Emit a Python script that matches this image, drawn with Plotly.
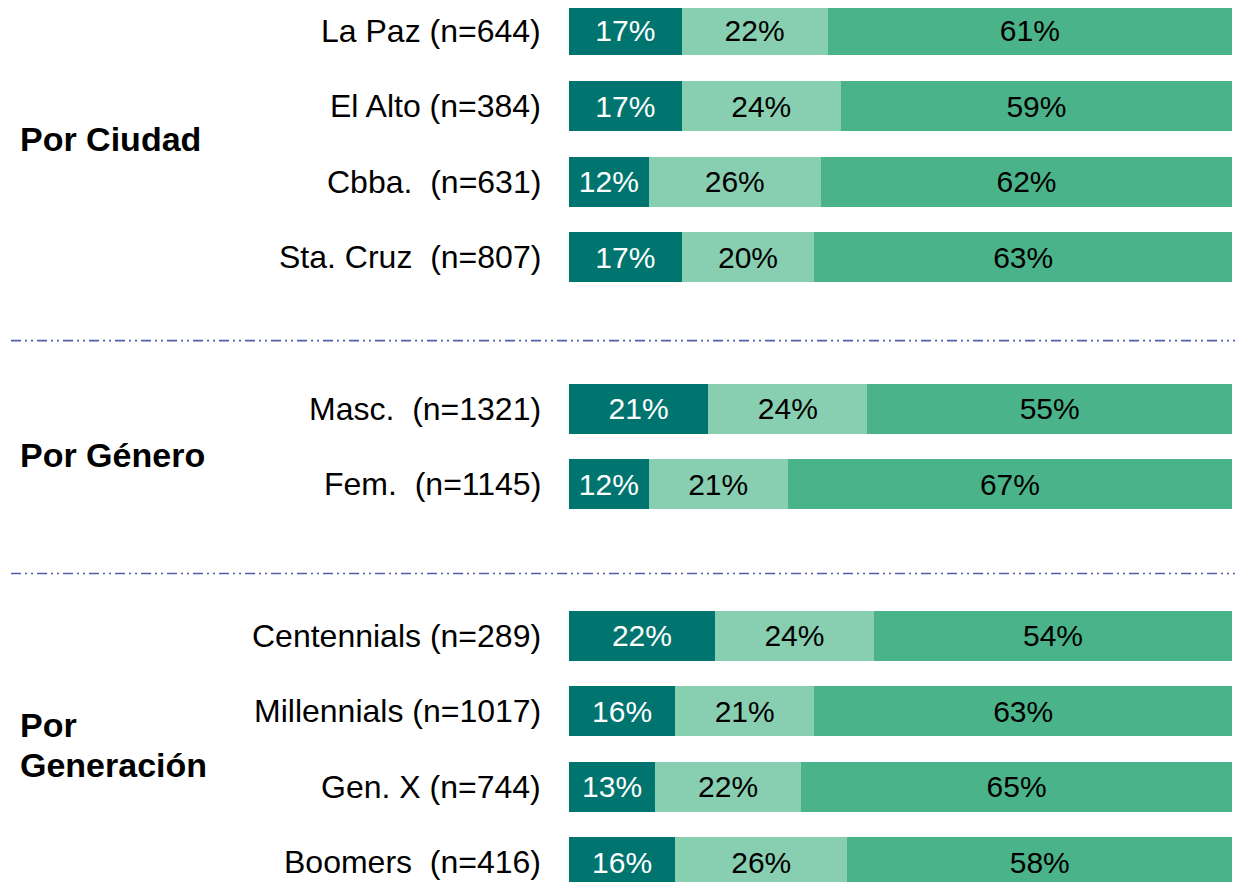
import plotly.graph_objects as go

# ---- data ----
categories = ["La Paz (n=644)", "El Alto (n=384)", "Cbba.  (n=631)", "Sta. Cruz  (n=807)",
              "Masc.  (n=1321)", "Fem.  (n=1145)",
              "Centennials (n=289)", "Millennials (n=1017)", "Gen. X (n=744)", "Boomers  (n=416)"]
group_names = ["Por Ciudad", "Por Género", "Por Generación"]
group_sizes = [4, 2, 4]
series_1 = [17, 17, 12, 17, 21, 12, 22, 16, 13, 16]
series_2 = [22, 24, 26, 20, 24, 21, 24, 21, 22, 26]
series_3 = [61, 59, 62, 63, 55, 67, 54, 63, 65, 58]

# ---- layout helpers ----
COLORS = ["#00756F", "#88CFB1", "#4BB389"]
TEXT_COLORS = ["white", "black", "black"]
FONT = "Liberation Sans, Arial, sans-serif"

# row positions: one empty row between groups
positions = []
pos = 0
for gs in group_sizes:
    for i in range(gs):
        positions.append(pos)
        pos += 1
    pos += 1

fig = go.Figure()
for vals, col, tcol in zip([series_1, series_2, series_3], COLORS, TEXT_COLORS):
    fig.add_trace(go.Bar(
        y=positions, x=vals, orientation="h",
        marker=dict(color=col, line=dict(width=0)),
        width=0.661,
        text=[f"{v}%" for v in vals],
        textposition="inside", insidetextanchor="middle",
        textangle=0,
        textfont=dict(family=FONT, size=30, color=tcol),
        constraintext="none",
        hoverinfo="skip",
        showlegend=False,
    ))

# category labels
for p, lab in zip(positions, categories):
    fig.add_annotation(xref="paper", yref="y", x=0, y=p, text=lab,
                       xanchor="right", yanchor="middle", xshift=-26, showarrow=False,
                       font=dict(family=FONT, size=32, color="black"))

# group labels
GROUP_X = -0.831
GFONT = dict(family=FONT, size=34, color="black")
fig.add_annotation(xref="paper", yref="y", x=GROUP_X, y=1.44, text="<b>" + group_names[0] + "</b>",
                   xanchor="left", yanchor="middle", showarrow=False, font=GFONT)
fig.add_annotation(xref="paper", yref="y", x=GROUP_X, y=5.61, text="<b>" + group_names[1] + "</b>",
                   xanchor="left", yanchor="middle", showarrow=False, font=GFONT)
w1, w2 = group_names[2].split(" ")
fig.add_annotation(xref="paper", yref="y", x=GROUP_X, y=9.18, text="<b>" + w1 + "</b>",
                   xanchor="left", yanchor="middle", showarrow=False, font=GFONT)
fig.add_annotation(xref="paper", yref="y", x=GROUP_X, y=9.71, text="<b>" + w2 + "</b>",
                   xanchor="left", yanchor="middle", showarrow=False, font=GFONT)

# separators
for sy in [4.10, 7.18]:
    fig.add_shape(type="line", xref="paper", yref="y", x0=-0.8416, x1=1.02, y0=sy, y1=sy,
                  line=dict(color="#4F5FAA", width=1.6, dash="10px,4px,2px,4px,2px,4px"))

# the page body adds an 8px margin, so the figure is 8px smaller on each axis
fig.update_layout(
    barmode="stack",
    width=1235, height=874,
    margin=dict(l=561, r=11, t=0, b=0, pad=0),
    paper_bgcolor="white", plot_bgcolor="white",
    xaxis=dict(range=[0, 100], visible=False, fixedrange=True),
    yaxis=dict(range=[11.259, -0.2975], visible=False, fixedrange=True),
    showlegend=False,
    uniformtext=dict(mode=False),
)

fig.write_html("out.html")
